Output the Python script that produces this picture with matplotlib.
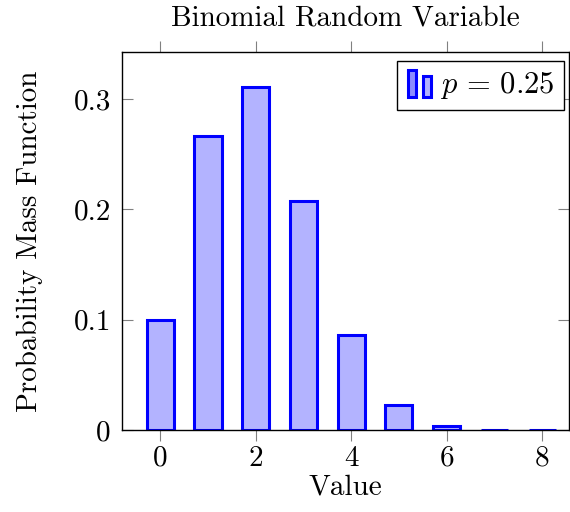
import matplotlib
matplotlib.use("Agg")
import matplotlib.pyplot as plt
from matplotlib.patches import Rectangle
from matplotlib.legend_handler import HandlerBase

values = [0, 1, 2, 3, 4, 5, 6, 7, 8]
pmf = [0.1001, 0.2670, 0.3115, 0.2076, 0.0865, 0.0231, 0.0038, 0.0004, 0.00002]
xticks = [0, 2, 4, 6, 8]
yticks = [0, 0.1, 0.2, 0.3]
yticklabels = ["0", "0.1", "0.2", "0.3"]
legend_label = r"$p\,=\,0.25$"

plt.rcParams['font.family'] = 'cmr10'
plt.rcParams['mathtext.fontset'] = 'cm'
plt.rcParams['axes.formatter.use_mathtext'] = True

fig = plt.figure(figsize=(5.7, 5.12), dpi=100)
ax = fig.add_axes([0.214, 0.160, 0.784, 0.738])

face = (0.7, 0.7, 1.0)
edge = (0, 0, 1)
bars = ax.bar(values, pmf, width=0.57, color=face, edgecolor=edge, linewidth=2.2, zorder=2)

ax.set_xlim(-0.8, 8.56)
ax.set_ylim(0, 0.3426)
ax.set_xticks(xticks)
ax.set_xticklabels([str(t) for t in xticks])
ax.set_yticks(yticks)
ax.set_yticklabels(yticklabels)
ax.tick_params(axis='x', direction='out', length=8, width=0.8, color='#808080', labelsize=21,
               top=True, pad=3)
ax.tick_params(axis='y', direction='in', length=8, width=0.8, color='#808080', labelsize=21,
               right=True, pad=8)
for s in ax.spines.values():
    s.set_linewidth(1.0)

ax.set_title("Binomial Random Variable", fontsize=21, pad=19)
ax.set_xlabel("Value", fontsize=21, labelpad=2)
ax.set_ylabel("Probability Mass Function", fontsize=21, labelpad=22)


class TwoBarHandler(HandlerBase):
    def create_artists(self, legend, orig_handle, xdescent, ydescent, width, height, fontsize, trans):
        w = width * 0.28
        r1 = Rectangle((-xdescent + width * 0.05, -ydescent - height * 0.2), w, height * 1.3,
                       facecolor=(0.55, 0.55, 1.0), edgecolor=edge, linewidth=2.2, transform=trans)
        r2 = Rectangle((-xdescent + width * 0.58, -ydescent - height * 0.2), w, height * 1.0,
                       facecolor=face, edgecolor=edge, linewidth=2.2, transform=trans)
        return [r1, r2]


leg = ax.legend([bars], [legend_label], handler_map={type(bars): TwoBarHandler()},
                loc='upper right', fontsize=22, handlelength=0.95, handletextpad=0.15,
                fancybox=False, framealpha=1, edgecolor='black', borderaxespad=0.1,
                borderpad=0.3)
leg.get_frame().set_linewidth(1.0)
leg.set_bbox_to_anchor((0.995, 0.985), transform=ax.transAxes)

fig.savefig("out.png", dpi=100)
